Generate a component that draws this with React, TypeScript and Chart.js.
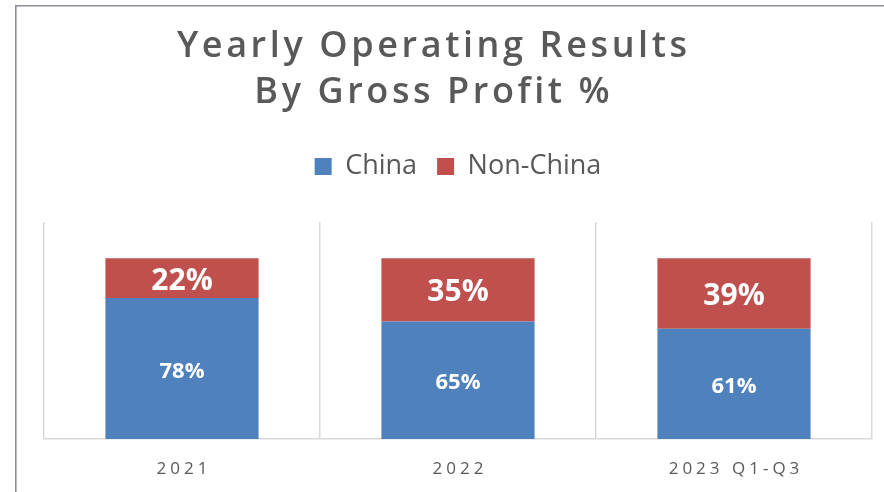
import React, { useEffect, useRef } from "react";
import { Chart, registerables } from "chart.js";

Chart.register(...registerables);

const categories = ["2021", "2022", "2023 Q1-Q3"];
const chinaValues = [78, 65, 61];
const nonChinaValues = [22, 35, 39];
const titleLines = ["Yearly Operating Results", "By Gross Profit %"];
const seriesNames = ["China", "Non-China"];

const BLUE = "#4F81BD";
const RED = "#C0504D";
const TEXT = "#595959";
const FONT = "'Open Sans', 'Noto Sans', sans-serif";

export default function App() {
  const ref = useRef<HTMLCanvasElement | null>(null);

  useEffect(() => {
    const canvas = ref.current;
    if (!canvas) return;

    const framePlugin = {
      id: "frame",
      beforeDraw(chart: any) {
        const ctx = chart.ctx;
        ctx.save();
        ctx.fillStyle = "#ffffff";
        ctx.fillRect(0, 0, chart.width, chart.height);
        ctx.strokeStyle = "#8a8f96";
        ctx.lineWidth = 1.6;
        ctx.beginPath();
        ctx.moveTo(15.8, chart.height);
        ctx.lineTo(15.8, 5.8);
        ctx.lineTo(chart.width, 5.8);
        ctx.stroke();
        ctx.restore();
      },
    };

    const legendSpace = {
      id: "legendSpace",
      beforeInit(chart: any) {
        const orig = chart.legend.fit;
        chart.legend.fit = function () {
          orig.call(this);
          this.height = 89;
        };
      },
    };

    const labelsPlugin = {
      id: "segLabels",
      afterDatasetsDraw(chart: any) {
        const ctx = chart.ctx;
        ctx.save();
        ctx.fillStyle = "#ffffff";
        ctx.textAlign = "center";
        ctx.textBaseline = "middle";
        chart.data.datasets.forEach((ds: any, di: number) => {
          const meta = chart.getDatasetMeta(di);
          ctx.font = di === 0 ? `bold 22px ${FONT}` : `bold 30px ${FONT}`;
          meta.data.forEach((el: any, i: number) => {
            const { x, y, base } = el.getProps(["x", "y", "base"], true);
            ctx.fillText(`${ds.data[i]}%`, x, (y + base) / 2 + 3);
          });
        });
        ctx.restore();
        // spacing for the x tick labels drawn next (ticks z = 1)
        (ctx as any).letterSpacing = "4px";
      },
      afterDraw(chart: any) {
        const ctx = chart.ctx;
        (ctx as any).letterSpacing = "0px";
        ctx.save();
        const sp = 3.6;
        (ctx as any).letterSpacing = `${sp}px`;
        ctx.font = `600 36px ${FONT}`;
        ctx.fillStyle = TEXT;
        ctx.textAlign = "center";
        ctx.textBaseline = "alphabetic";
        ctx.fillText(titleLines[0], 432 + sp / 2, 57);
        ctx.fillText(titleLines[1], 432 + sp / 2, 103);
        (ctx as any).letterSpacing = "0px";
        ctx.restore();
      },
    };

    const chart = new Chart(canvas, {
      type: "bar",
      data: {
        labels: categories,
        datasets: [
          {
            label: seriesNames[0],
            data: chinaValues,
            backgroundColor: BLUE,
            borderWidth: 0,
            categoryPercentage: 1,
            barPercentage: 0.555,
          },
          {
            label: seriesNames[1],
            data: nonChinaValues,
            backgroundColor: RED,
            borderWidth: 0,
            categoryPercentage: 1,
            barPercentage: 0.555,
          },
        ],
      },
      options: {
        responsive: false,
        animation: false,
        layout: { padding: { left: 44, right: 12, top: 133, bottom: 14 } },
        plugins: {
          title: { display: false },
          tooltip: { enabled: false },
          legend: {
            display: true,
            position: "top",
            labels: {
              color: TEXT,
              font: { family: FONT, size: 27 },
              boxWidth: 17,
              boxHeight: 17,
              padding: 20,
            },
          },
        },
        scales: {
          x: {
            stacked: true,
            grid: {
              display: true,
              offset: true,
              color: "#d9d9d9",
              lineWidth: 1.5,
              drawTicks: false,
            },
            border: { display: true, color: "#d9d9d9", width: 1.5 },
            ticks: {
              z: 1,
              color: TEXT,
              font: { family: FONT, size: 17 },
              padding: 20,
              labelOffset: 2,
            },
            afterFit(scale: any) {
              scale.height = 39;
            },
          },
          y: {
            stacked: true,
            display: false,
            min: 0,
            max: 120,
          },
        },
      },
      plugins: [framePlugin, legendSpace, labelsPlugin],
    });

    return () => chart.destroy();
  }, []);

  return (
    <canvas
      ref={ref}
      width={884}
      height={492}
      style={{ position: "absolute", left: 0, top: 0, display: "block" }}
    />
  );
}
